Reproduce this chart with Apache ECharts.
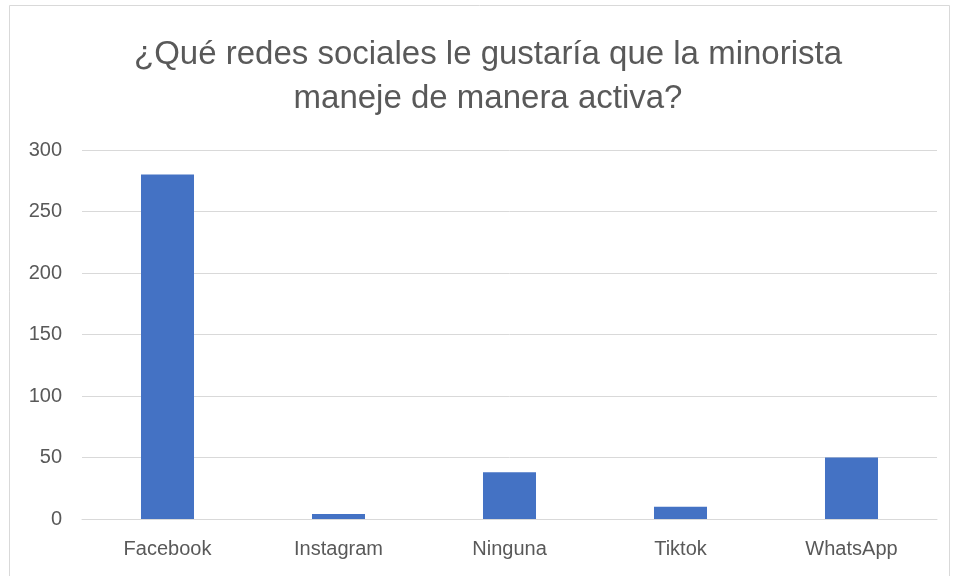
<!DOCTYPE html>
<html><head><meta charset="utf-8">
<script src="https://cdn.jsdelivr.net/npm/echarts@6/dist/echarts.min.js"></script>
<style>html,body{margin:0;padding:0;background:#fff}#c{width:955px;height:576px}</style>
</head><body><div id="c"></div>
<script>
const categories = ['Facebook', 'Instagram', 'Ninguna', 'Tiktok', 'WhatsApp'];
const values = [280, 4, 38, 10, 50];
const titleText = '¿Qué redes sociales le gustaría que la minorista\nmaneje de manera activa?';

const chart = echarts.init(document.getElementById('c'));
chart.setOption({
  animation: false,
  backgroundColor: '#fff',
  graphic: [{
    type: 'rect', shape: { x: 9.5, y: 5.5, width: 940, height: 600 },
    style: { fill: 'none', stroke: '#d9d9d9', lineWidth: 1 }, silent: true
  }, {
    type: 'text', x: 488, y: 33, silent: true,
    style: {
      text: titleText, textAlign: 'center', textVerticalAlign: 'top',
      fontFamily: 'Liberation Sans', fontSize: 33, fontWeight: 'normal', fill: '#595959', lineHeight: 44
    }
  }],
  grid: { left: 82, right: 18, top: 150, bottom: 57, containLabel: false },
  xAxis: {
    type: 'category', data: categories,
    axisLine: { lineStyle: { color: '#d9d9d9', width: 1 } },
    axisTick: { show: false },
    axisLabel: { color: '#595959', fontSize: 20, fontFamily: 'Liberation Sans', margin: 20 }
  },
  yAxis: {
    type: 'value', min: 0, max: 300, interval: 50,
    axisLine: { show: false }, axisTick: { show: false },
    splitLine: { lineStyle: { color: '#d9d9d9', width: 1 } },
    axisLabel: { color: '#595959', fontSize: 20, fontFamily: 'Liberation Sans', margin: 20 }
  },
  series: [{
    type: 'bar', data: values, barWidth: '31%',
    itemStyle: { color: '#4472c4' }
  }]
});
</script></body></html>
